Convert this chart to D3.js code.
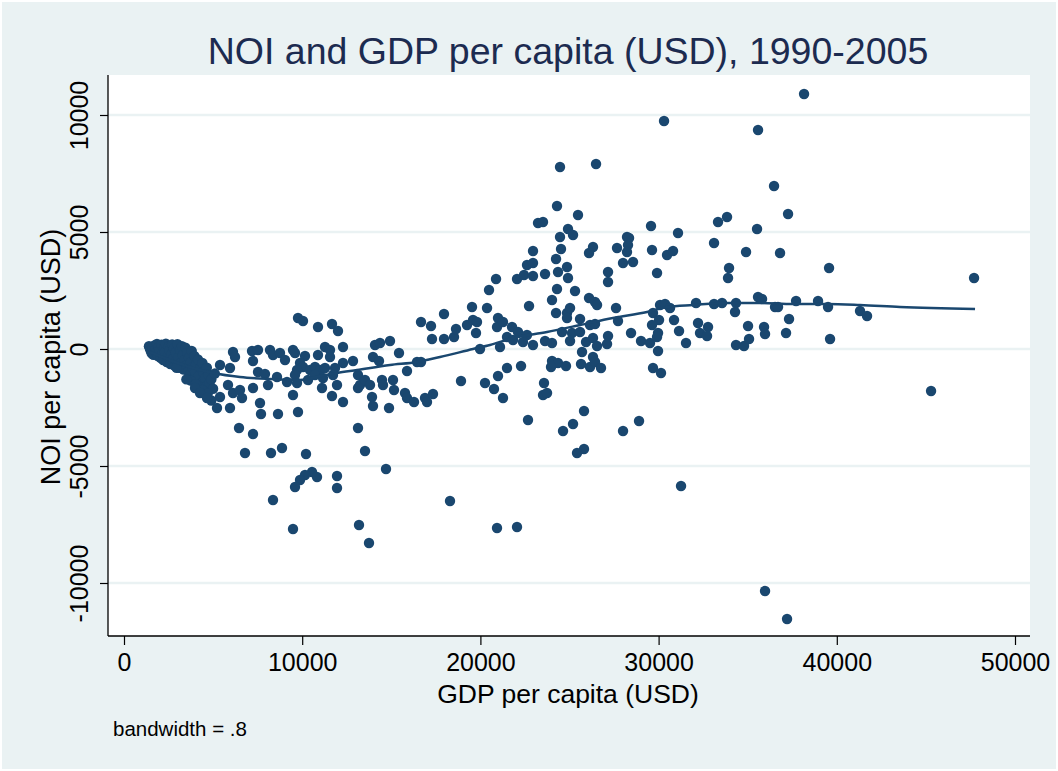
<!DOCTYPE html>
<html>
<head>
<meta charset="utf-8">
<script src="https://cdn.jsdelivr.net/npm/d3@7"></script>
<style>
  body { margin: 0; background: #eaf2f3; }
  text { font-family: "Liberation Sans", Arial, Helvetica, sans-serif; }
</style>
</head>
<body>
<svg width="1058" height="771"></svg>
<script>
// GDP per capita vs NOI per capita (USD)
var points = [
  // dense low-income cluster
  [1400,120],[1450,20],[1500,-80],[1550,-180],[1600,60],[1650,-250],[1700,150],[1750,-30],
  [1800,-140],[1850,220],[1900,-300],[1950,80],[2000,-40],[2050,-380],[2100,180],[2150,-200],
  [2200,-470],[2250,40],[2300,-120],[2350,230],[2400,-560],[2450,-330],[2500,100],[2550,-60],
  [2600,-640],[2650,-230],[2700,190],[2750,-420],[2800,20],[2850,-720],[2900,-150],[2950,-520],
  [3000,210],[3050,-350],[3100,-800],[3150,-40],[3200,-600],[3250,120],[3300,-260],[3350,-880],
  [3400,-480],[3450,60],[3500,-700],[3550,-160],[3600,-950],[3650,-380],[3700,-1100],[3750,-560],
  [3800,-80],[3850,-800],[3900,-1250],[3950,-300],[4000,-980],[4050,-650],[4100,-1350],[4150,-450],
  [4200,-1150],[4300,-800],[4350,-1450],[4400,-600],[4450,-1000],[4550,-1250],[4600,-1600],[4650,-800],
  [4750,-1100],[4800,-1450],[4900,-1300],[5000,-1700],[5100,-1050],[3750,-1350],[4000,-1500],
  [4400,-1750],[4700,-1900],[4900,-2200],[3500,-1300],[2950,-800],
  // 5000 - 10000
  [6117,-128],[6229,-342],[7183,-85],[7520,-43],[7239,-513],[8194,-43],[8362,-256],[8755,-171],
  [9035,-470],[9484,-43],[9765,1325],[5388,-684],[5949,-812],[7520,-983],[7913,-1069],[8081,-1539],
  [8586,-1197],[9148,-1410],[9484,-1966],[9709,-1453],[3985,-1667],[4265,-1881],[4658,-2094],
  [5219,-2522],[5388,-2052],[5949,-2522],[5836,-1539],[6117,-1881],[6510,-1752],[6622,-2094],
  [7239,-1667],[7632,-2308],[7688,-2778],[8642,-2778],[9765,-2693],[6454,-3376],[7239,-3633],
  [6791,-4445],[8250,-4445],[8867,-4231],
  // 10000 - 20500
  [10045,1197],[10887,940],[11673,1069],[12010,769],[9597,-171],[10158,-299],[11280,85],[11561,-43],
  [10887,-256],[11561,-342],[12290,85],[12290,-598],[12851,-513],[9877,-598],[10045,-769],[9709,-898],
  [10438,-898],[10719,-769],[11000,-898],[11280,-812],[11841,-812],[11729,-1111],[9597,-1111],
  [10326,-1325],[10719,-1111],[11168,-1239],[11112,-1667],[11954,-1539],[11673,-2009],[12290,-2265],
  [13132,-1111],[13132,-1667],[13244,-1539],[13525,-1325],[13806,-1539],[13918,-2052],[13974,-2436],
  [13132,-3376],[14086,171],[14367,256],[14928,342],[13974,-342],[14311,-513],[15433,-171],
  [15882,-940],[14479,-1325],[14535,-1539],[15096,-1325],[15152,-1752],[15770,-1881],[15882,-2094],
  [16275,-2265],[14872,-2522],[16892,-2094],[17004,-2265],[17341,-1923],[16443,-556],[16668,-556],
  [16668,1154],[17229,983],[17285,427],[17958,427],[17958,1496],[18520,513],[18632,855],[19249,1026],
  [19586,1239],[19810,1154],[19754,684],[19530,1795],[20372,1752],[20484,2522],[19979,0],
  [18912,-1368],[20259,-1453],
  // 20500 - 31500
  [20877,2992],[22055,2992],[22448,3163],[22953,3120],[23627,3206],[24356,3291],[24917,3035],
  [27162,3291],[27162,2864],[29912,3248],[24300,2564],[25310,2479],[26096,2180],[26433,2009],
  [26545,1881],[24019,2094],[22729,1838],[27611,1752],[24244,1539],[24861,1539],[25030,1752],
  [24861,1325],[25591,1282],[27723,1197],[26152,1026],[26433,1069],[20989,1325],[20933,940],
  [21269,1154],[21775,940],[22111,727],[22616,598],[21494,513],[21831,385],[22392,299],[21101,85],
  [22953,171],[23627,342],[24019,256],[24581,727],[25142,684],[25591,727],[25030,342],[25927,299],
  [26320,470],[26545,128],[27162,556],[27106,214],[28453,684],[29014,342],[29519,256],[29687,1539],
  [30080,1881],[30361,1923],[30642,1752],[30024,1239],[29631,1026],[29968,684],[29912,513],
  [30866,1239],[31147,769],[25703,-128],[26320,-342],[24019,-513],[24356,-598],[23963,-769],
  [24805,-727],[25647,-641],[26152,-769],[26433,-556],[26769,-812],[29968,-85],[29687,-812],
  [30136,-1026],[22280,-727],[21494,-812],[20989,-1154],[20764,-1710],[21269,-2094],[23570,-1453],
  [23514,-1966],[23739,-1881],[22672,-3035],[24637,-3505],[25198,-3206],[25815,-2650],[28004,-3505],
  [28902,-3077],[25815,-4274],
  [24468,7779],[26489,7907],[24300,6112],[25478,5727],[23234,5385],[23514,5428],[24917,5129],
  [25198,4872],[24468,4787],[22953,4189],[24524,4274],[24244,3847],[22616,3590],[22953,3676],
  [24861,3505],[27667,4317],[28228,4787],[28341,4744],[28284,4445],[28228,4146],[28004,3676],
  [28565,3718],[26320,4359],[26096,4103],[29575,5257],[29631,4231],[30473,4018],[30810,4189],
  [31090,4958],
  // 30000+
  [30305,9745],[38162,10899],[35580,9360],[36478,6967],[37264,5770],[33335,5428],[33840,5642],
  [35524,5129],[33111,4530],[34907,4146],[36815,4103],[33953,3462],[33896,3035],[39565,3462],
  [32101,1966],[33111,1923],[33560,1966],[34345,1966],[35580,2222],[35805,2137],[36534,1795],
  [36702,1795],[37713,2052],[38947,2052],[39508,1795],[41304,1624],[41697,1410],[34289,1581],
  [32213,1111],[32774,940],[32325,684],[32718,556],[35019,983],[35917,940],[35973,641],[37320,1282],
  [37151,684],[39621,427],[31539,256],[34345,171],[34794,128],[35075,427],[47702,3035],[45289,-1795],
  // large negatives
  [10214,-4488],[13525,-4359],[14703,-5129],[11954,-5428],[11954,-5941],[10551,-5257],[10831,-5471],
  [10158,-5385],[9877,-5599],[9597,-5898],[8362,-6454],[18295,-6496],[9484,-7693],[13188,-7522],
  [13749,-8292],[20933,-7650],[25422,-4445],[22055,-7608],[31259,-5855],[35973,-10343],[37208,-11540]
];

// lowess smooth (bandwidth .8)
var lowessGdp = [1459, 2862, 4265, 4995, 6510, 8194, 9877, 11000, 11954, 13076, 14928, 16443, 17734,
                 19586, 20540, 21831, 23739, 25591, 27442, 29351, 30473, 31932, 33840, 35692, 37544,
                 39452, 41304, 43549, 47758];
var lowessNoi = [-128, -556, -898, -1026, -1197, -1282, -1325, -1154, -1026, -898, -684, -556, -342,
                 0, 171, 470, 727, 1026, 1325, 1581, 1795, 1881, 1966, 1966, 1923, 1923, 1881, 1795, 1710];

var xTicks = [0, 10000, 20000, 30000, 40000, 50000];
var yTicks = [-10000, -5000, 0, 5000, 10000];

var navy = "#1a476f";
var svg = d3.select("svg");

var plot = { left: 108, right: 1030, top: 75, bottom: 636 };

var x = d3.scaleLinear().domain([0, 50000]).range([124, 1015]);
var y = d3.scaleLinear().domain([-10000, 10000]).range([583, 115]);

// plain hyphen for negatives, like the original
var fmt = function(d) { return String(d); };

// background
svg.append("rect")
    .attr("x", 1).attr("y", 1).attr("width", 1056).attr("height", 769)
    .attr("fill", "#eaf2f3").attr("stroke", "#ffffff").attr("stroke-width", 2);

svg.append("rect")
    .attr("x", plot.left).attr("y", plot.top)
    .attr("width", plot.right - plot.left).attr("height", plot.bottom - plot.top)
    .attr("fill", "#ffffff");

// grid lines
svg.selectAll(".grid")
    .data(yTicks)
    .enter().append("line")
    .attr("x1", plot.left).attr("x2", plot.right)
    .attr("y1", function(d) { return y(d); })
    .attr("y2", function(d) { return y(d); })
    .attr("stroke", "#eaf2f3")
    .attr("stroke-width", 2.5);

// points
svg.append("g").selectAll("circle")
    .data(points)
    .enter().append("circle")
    .attr("cx", function(d) { return x(d[0]); })
    .attr("cy", function(d) { return y(d[1]); })
    .attr("r", 5.2)
    .attr("fill", navy);

// lowess line
var line = d3.line()
    .x(function(d) { return x(d[0]); })
    .y(function(d) { return y(d[1]); })
    .curve(d3.curveMonotoneX);

svg.append("path")
    .datum(lowessGdp.map(function(g, i) { return [g, lowessNoi[i]]; }))
    .attr("d", line)
    .attr("fill", "none")
    .attr("stroke", navy)
    .attr("stroke-width", 2.5);

// axes
var xAxis = d3.axisBottom(x).tickValues(xTicks).tickSize(9).tickPadding(8).tickFormat(fmt);
var gx = svg.append("g").attr("transform", "translate(0," + plot.bottom + ")").call(xAxis);
gx.select(".domain").remove();
gx.append("line").attr("x1", plot.left).attr("x2", plot.right)
    .attr("stroke", "#000").attr("stroke-width", 1.3);
gx.selectAll(".tick line").attr("stroke", "#000").attr("stroke-width", 1.2);
gx.selectAll(".tick text").attr("fill", "#000").attr("font-size", 25)
    .attr("font-family", "Liberation Sans, Arial, sans-serif");

var yAxis = d3.axisLeft(y).tickValues(yTicks).tickSize(8).tickFormat(fmt);
var gy = svg.append("g").attr("transform", "translate(" + plot.left + ",0)").call(yAxis);
gy.select(".domain").remove();
gy.append("line").attr("y1", plot.top).attr("y2", plot.bottom)
    .attr("stroke", "#000").attr("stroke-width", 1.3);
gy.selectAll(".tick line").attr("stroke", "#000").attr("stroke-width", 1.2);
gy.selectAll(".tick text")
    .attr("fill", "#000").attr("font-size", 25)
    .attr("font-family", "Liberation Sans, Arial, sans-serif")
    .attr("x", null).attr("dy", null)
    .attr("text-anchor", "middle")
    .attr("transform", "translate(-20,0) rotate(-90)");

// titles
svg.append("text")
    .attr("x", 568).attr("y", 64)
    .attr("text-anchor", "middle")
    .attr("font-size", 37.5)
    .attr("fill", "#1c2b50")
    .text("NOI and GDP per capita (USD), 1990-2005");

svg.append("text")
    .attr("x", 568).attr("y", 703)
    .attr("text-anchor", "middle")
    .attr("font-size", 26.5)
    .attr("fill", "#000")
    .text("GDP per capita (USD)");

svg.append("text")
    .attr("transform", "translate(60,357) rotate(-90)")
    .attr("text-anchor", "middle")
    .attr("font-size", 27)
    .attr("fill", "#000")
    .text("NOI per capita (USD)");

svg.append("text")
    .attr("x", 113).attr("y", 736)
    .attr("font-size", 20.5)
    .attr("fill", "#000")
    .text("bandwidth = .8");
</script>
</body>
</html>
